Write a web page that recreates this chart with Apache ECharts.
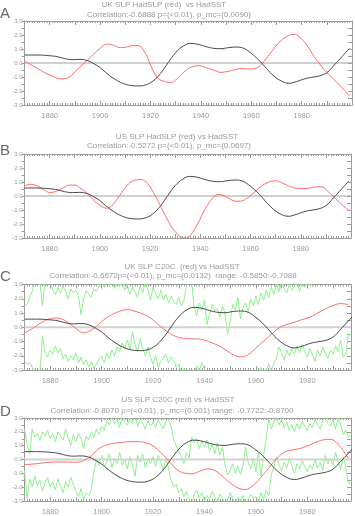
<!DOCTYPE html>
<html><head><meta charset="utf-8">
<script src="https://cdn.jsdelivr.net/npm/echarts@6/dist/echarts.min.js"></script>
<style>html,body{margin:0;padding:0;background:#fff}#c{width:355px;height:516px}</style>
</head><body><div id="c"></div>
<script>
// Black line: HadSST index (same in all panels)
const sstYears  = [1870,1875,1880,1883,1886,1889,1892,1895,1898,1900,1903,1906,1909,1912,1915,1918,1921,1924,1927,1930,1933,1936,1939,1942,1945,1948,1951,1954,1957,1960,1963,1966,1969,1972,1975,1978,1981,1984,1987,1990,1993,1996,1999];
const sstValues = [0.57,0.57,0.52,0.45,0.31,0.24,0.26,0.17,-0.1,-0.33,-0.79,-1.17,-1.45,-1.6,-1.64,-1.57,-1.29,-0.74,0.02,0.74,1.21,1.4,1.33,1.17,1.05,1.02,1.1,1.14,1.05,0.69,0.21,-0.38,-0.93,-1.29,-1.45,-1.33,-1.14,-1.02,-0.93,-0.69,-0.14,0.45,1.05];

// Red lines
const ukHadYears  = [1870,1875,1880,1885,1888,1890,1895,1900,1903,1905,1908,1910,1913,1915,1918,1920,1923,1926,1928,1930,1933,1936,1939,1942,1945,1948,1950,1953,1956,1960,1962,1965,1968,1971,1974,1977,1979,1982,1985,1988,1990,1993,1996,1999];
const ukHadValues = [0.14,-0.38,-0.86,-1.14,-0.98,-0.62,0.21,1.05,1.36,1.29,1.1,1.12,1.24,1.24,0.69,-0.14,-1.1,-1.33,-1.4,-1.21,-0.69,-0.31,-0.19,-0.33,-0.5,-0.67,-0.62,-0.5,-0.4,-0.43,-0.38,0.1,0.81,1.45,1.88,2.05,1.88,1.29,0.45,-0.26,-0.69,-1.21,-1.76,-2.36];

const usHadYears  = [1870,1872,1875,1878,1880,1882,1885,1888,1890,1892,1895,1898,1901,1903,1905,1908,1911,1913,1916,1918,1920,1923,1926,1929,1932,1934,1936,1939,1942,1945,1947,1949,1951,1954,1956,1958,1961,1964,1967,1970,1973,1976,1979,1982,1985,1988,1991,1994,1997,1999];
const usHadValues = [0.7,0.83,0.73,0.42,0.25,0.3,0.54,0.78,0.78,0.59,0.18,-0.37,-0.78,-0.87,-0.66,0.06,0.78,1.06,1.18,1.06,0.66,-0.3,-1.38,-2.33,-2.88,-3.0,-2.81,-1.97,-0.9,-0.13,0.11,0.06,-0.13,-0.37,-0.37,-0.23,0.18,0.66,0.97,1.09,0.9,0.66,0.54,0.54,0.63,0.66,0.3,-0.23,-0.71,-1.02];

const ukC20Years  = [1870,1873,1876,1879,1882,1885,1888,1891,1893,1895,1898,1901,1904,1907,1910,1913,1916,1919,1922,1925,1928,1931,1934,1937,1940,1943,1946,1949,1952,1954,1957,1960,1963,1966,1969,1972,1975,1978,1981,1984,1987,1990,1993,1996];
const ukC20Values = [-0.4,-0.1,0.26,0.54,0.65,0.54,0.19,-0.23,-0.4,-0.28,0.07,0.54,0.89,1.12,1.24,1.12,0.93,0.65,0.19,-0.23,-0.58,-0.75,-0.82,-0.82,-0.91,-1.1,-1.33,-1.68,-1.99,-2.08,-1.92,-1.45,-0.98,-0.51,-0.05,0.19,0.35,0.54,0.7,1.0,1.28,1.52,1.66,1.59];

const usC20Years  = [1870,1875,1880,1885,1890,1893,1896,1899,1902,1905,1908,1911,1914,1917,1920,1923,1926,1929,1932,1935,1938,1941,1944,1947,1950,1953,1956,1959,1962,1965,1968,1971,1974,1977,1980,1983,1986,1989,1992,1994,1996];
const usC20Values = [-0.37,-0.3,-0.2,-0.18,-0.2,-0.08,0.27,0.79,1.05,1.17,1.24,1.29,1.29,1.22,0.98,0.51,-0.08,-0.68,-0.98,-1.03,-0.86,-0.68,-0.79,-1.22,-1.69,-2.05,-2.17,-1.86,-1.27,-0.63,0.04,0.51,0.68,0.79,0.98,1.22,1.41,1.46,1.1,0.63,0.08];

// Green annual lines, one value per year starting at greenStartYear
const greenStartYear = 1870;
const ukUpper = [1.5,1.6,2.1,2.5,3.2,3.4,3.1,1.5,3.3,3.5,
  3.2,2.6,2.3,2.8,2.4,2.9,2.5,2.0,2.7,2.4,
  2.6,2.2,0.9,2.0,2.6,2.3,2.1,2.7,2.5,2.9,
  3.2,2.8,3.3,2.9,3.4,2.7,3.1,2.9,3.3,2.6,
  3.0,2.3,2.8,2.5,2.1,2.9,2.4,3.2,2.6,1.9,
  2.8,2.4,2.0,2.6,1.9,2.3,1.7,2.2,1.8,1.6,
  2.1,1.5,1.9,2.9,3.1,3.2,1.4,0.8,1.7,1.2,
  1.9,0.2,0.9,1.6,1.1,1.3,0.7,1.5,1.0,-0.5,
  0.4,1.6,1.2,2.1,0.6,1.4,1.7,1.1,2.0,1.5,
  2.2,1.6,2.4,1.9,2.6,2.1,2.8,2.3,3.1,2.5,
  3.2,2.7,2.4,3.0,2.6,2.9,3.3,2.5,3.1,2.8,
  3.4,2.9,3.2,3.5,3.1,3.6,3.3,3.5,3.2,3.6,
  3.4,3.7,3.3,3.5,3.6,3.4,3.5,3.5];
const ukLower = [-2.4,-2.6,-2.5,-2.8,-3.3,-3.5,-3.2,-0.6,-1.8,-2.1,
  -1.6,-1.9,-1.3,-1.8,-1.5,-2.2,-1.9,-2.4,-2.0,-2.3,
  -1.8,-2.5,-2.1,-2.6,-2.3,-2.8,-2.4,-2.9,-2.6,-2.2,
  -2.0,-2.5,-1.8,-2.2,-1.6,-2.0,-1.4,-1.7,-1.1,-1.5,
  -0.9,-1.6,-0.3,-1.2,-1.7,-0.8,-1.5,-2.0,-1.4,-2.1,
  -2.6,-2.0,-2.8,-2.4,-2.2,-1.9,-2.5,-2.1,-2.3,-2.8,
  -2.6,-3.2,-2.9,-3.4,-3.1,-3.5,-3.3,-2.7,-3.1,-2.5,
  -2.9,-3.3,-3.6,-3.8,-3.5,-3.9,-3.7,-4.0,-3.6,-3.8,
  -3.5,-3.9,-3.7,-4.1,-3.8,-3.6,-3.9,-3.4,-3.7,-3.3,
  -3.6,-3.2,-2.8,-3.3,-3.0,-2.6,-3.1,-2.5,-2.2,-1.4,
  -1.8,-2.3,-1.6,-2.0,-1.5,-1.9,-1.3,-1.8,-1.2,-1.7,
  -2.1,-1.5,-1.9,-2.4,-1.6,-2.0,-1.4,-1.8,-2.2,-1.6,
  -1.9,-1.3,-1.7,-0.9,-2.1,-1.9,-0.5,-0.5];
const usUpper = [2.2,1.1,0.4,2.2,1.6,1.9,1.4,2.0,1.7,2.1,
  1.5,1.9,1.3,2.0,1.7,1.4,2.2,1.6,1.0,1.8,
  1.3,1.9,1.5,0.8,1.7,1.4,2.0,1.6,2.2,1.8,
  2.4,2.1,2.8,2.5,3.1,2.6,2.9,2.3,3.2,2.7,
  2.5,3.0,2.6,3.3,2.4,2.9,2.6,2.2,2.8,2.4,
  2.7,2.3,2.9,2.5,2.2,2.8,2.9,2.4,1.5,1.0,
  0.6,0.2,-0.3,0.5,0.1,1.6,1.2,1.5,0.8,1.3,
  0.9,1.4,0.6,1.1,0.4,1.2,0.3,0.9,-0.4,-1.1,
  -0.8,-0.3,-1.0,-0.5,-1.1,-0.4,0.9,-0.2,-0.7,0.1,
  -0.9,0.5,-1.2,0.3,1.5,2.9,2.2,2.7,3.1,2.5,
  2.9,2.3,2.7,2.1,2.5,2.0,2.6,2.2,2.8,2.4,
  2.1,2.6,2.3,2.9,2.5,2.2,2.8,3.1,2.6,2.4,
  2.9,2.2,3.0,2.5,1.8,2.1,1.6,1.7];
const usLower = [-0.8,-2.8,-1.4,-2.0,-1.2,-1.9,-1.5,-2.3,-1.7,-1.3,
  -2.0,-1.6,-2.2,-1.4,-1.9,-2.4,-1.6,-2.0,-1.3,-1.8,
  -2.3,-2.7,-2.1,-2.9,-2.4,-2.6,-2.2,-0.9,0.0,-0.4,
  0.3,-0.5,-0.2,0.4,-0.6,0.1,-0.3,0.5,-0.4,0.0,
  -0.7,0.2,-0.4,-1.2,0.3,-0.2,0.4,-0.6,0.1,-0.3,
  0.2,-0.5,0.3,-0.2,-0.8,0.1,-0.6,-1.5,-2.0,-1.8,
  -2.4,-2.1,-2.7,-2.3,-2.9,-3.3,-2.5,-2.2,-2.8,-2.4,
  -3.0,-2.6,-2.9,-2.3,-2.7,-3.1,-2.5,-2.8,-3.2,-2.9,
  -2.4,-2.8,-3.3,-2.7,-3.0,-2.6,-3.2,-2.9,-2.5,-2.8,
  -2.7,-3.1,-2.4,-2.9,-2.2,-2.6,-1.1,-0.6,0.2,-0.4,
  -0.8,-0.2,-0.6,0.1,-0.5,-1.0,-0.3,-0.7,-0.1,-0.5,
  -0.9,-0.4,-0.7,0.0,-0.6,-0.2,-0.8,0.3,-0.3,0.1,
  -0.4,0.5,-0.2,-0.7,0.2,-0.6,-1.7,-1.7];

// Axis ranges and tick labels
const xMinYear = 1870;
const xMaxHad = 2000;
const xMaxC20 = 1997;
const xLabelYears = [1880,1900,1920,1940,1960,1980];
const yMin = -3, yMax = 3;

// Text
const panelLetters = ['A','B','C','D'];
const titles = [
  'UK SLP HadSLP (red)  vs HadSST',
  'US SLP HadSLP (red) vs HadSST',
  'UK SLP C20C  (red) vs HadSST',
  'US SLP C20C (red) vs HadSST'
];
const subtitles = [
  'Correlation:-0.6888 p=(<0.01), p_mc=(0.0090)',
  'Correlation:-0.5272 p=(<0.01), p_mc=(0.0697)',
  'Correlation:-0.6672p=(<0.01), p_mc=(0.0132)  range: -0.5850:-0.7088',
  'Correlation:-0.8070 p=(<0.01), p_mc=(0.001) range: -0.7722:-0.8700'
];

// ---------- build ----------
const pairs = (xs, ys) => xs.map((x, i) => [x, ys[i]]);
const annual = ys => ys.map((v, i) => [greenStartYear + i, v]);

const layout = [
  {top: 21,  height: 84,   left: 24.5, right: 3, xmax: xMaxHad, t1: 5,   t2: 14.5,  tx1: 164, tx2: 169, ly: 14},
  {top: 154, height: 84,   left: 24.5, right: 4, xmax: xMaxHad, t1: 137, t2: 146,   tx1: 177, tx2: 169, ly: 151},
  {top: 284.5, height: 85.5, left: 24.5, right: 4, xmax: xMaxC20, t1: 266.5, t2: 275.5, tx1: 182, tx2: 173, ly: 277},
  {top: 418, height: 84.5, left: 24.5, right: 4, xmax: xMaxC20, t1: 400, t2: 410.5, tx1: 178, tx2: 172, ly: 412}
];
const redSets = [pairs(ukHadYears, ukHadValues), pairs(usHadYears, usHadValues), pairs(ukC20Years, ukC20Values), pairs(usC20Years, usC20Values)];
const greenSets = [[], [], [annual(ukUpper), annual(ukLower)], [annual(usUpper), annual(usLower)]];

const FONT = 'Liberation Sans';
const TXT = '#9a9a9a';
const AX = '#9c9c9c';

const grid = [], xAxis = [], yAxis = [], series = [], graphic = [];
layout.forEach((L, p) => {
  grid.push({top: L.top, height: L.height, left: L.left, right: L.right, containLabel: false});
  const xb = {
    type: 'value', gridIndex: p, min: xMinYear, max: L.xmax, interval: 10,
    axisLine: {show: true, onZero: false, lineStyle: {color: AX, width: 1}},
    axisTick: {show: true, inside: true, length: 4, lineStyle: {color: AX}},
    minorTick: {show: true, splitNumber: 10, length: 2, lineStyle: {color: AX}},
    splitLine: {show: false},
    axisLabel: {show: true, margin: 7, fontSize: 7.5, color: TXT, fontFamily: FONT,
      formatter: v => xLabelYears.indexOf(v) >= 0 ? String(v) : ''}
  };
  xAxis.push(xb);
  xAxis.push(Object.assign({}, xb, {position: 'top', axisLabel: {show: false}}));
  const yl = {
    type: 'value', gridIndex: p, min: yMin, max: yMax, interval: 0.5,
    axisLine: {show: true, onZero: false, lineStyle: {color: AX, width: 1}},
    axisTick: {show: true, inside: false, length: 3, lineStyle: {color: AX}},
    splitLine: {show: false},
    axisLabel: {show: true, margin: 2, fontSize: 6, color: TXT, fontFamily: FONT,
      formatter: v => Math.abs(v - Math.round(v)) < 1e-6 ? Number(v).toFixed(1) : ''}
  };
  yAxis.push(yl);
  yAxis.push(Object.assign({}, yl, {position: 'right', axisTick: {show: true, inside: true, length: 4, lineStyle: {color: AX}}, axisLabel: {show: false}}));

  greenSets[p].forEach(g => series.push({
    type: 'line', xAxisIndex: 2 * p, yAxisIndex: 2 * p, data: g, symbol: 'none', clip: true,
    lineStyle: {color: '#8ff08f', width: 1}, z: 1, silent: true
  }));
  series.push({
    type: 'line', xAxisIndex: 2 * p, yAxisIndex: 2 * p, data: [[xMinYear, 0], [L.xmax, 0]], symbol: 'none',
    lineStyle: {color: p >= 2 ? '#d2d2d2' : '#a0a0a0', width: p >= 2 ? 2 : 1}, z: 2, silent: true
  });
  series.push({
    type: 'line', xAxisIndex: 2 * p, yAxisIndex: 2 * p, data: redSets[p], symbol: 'none', smooth: 0.4, clip: true,
    lineStyle: {color: '#ff6a6a', width: 1}, z: 3, silent: true
  });
  series.push({
    type: 'line', xAxisIndex: 2 * p, yAxisIndex: 2 * p, data: pairs(sstYears, sstValues), symbol: 'none', smooth: 0.4, clip: true,
    lineStyle: {color: '#474747', width: 1}, z: 4, silent: true
  });

  graphic.push({type: 'text', x: 0, y: L.ly, style: {text: panelLetters[p], fontSize: 15, fontFamily: FONT, fill: '#6a6a6a', textVerticalAlign: 'middle', textAlign: 'left'}});
  graphic.push({type: 'text', x: L.tx1, y: L.t1, style: {text: titles[p], fontSize: 8, fontFamily: FONT, fill: TXT, textAlign: 'center', textVerticalAlign: 'middle'}});
  graphic.push({type: 'text', x: L.tx2, y: L.t2, style: {text: subtitles[p], fontSize: 8, fontFamily: FONT, fill: TXT, textAlign: 'center', textVerticalAlign: 'middle'}});
});

const chart = echarts.init(document.getElementById('c'), null, {renderer: 'canvas'});
chart.setOption({animation: false, backgroundColor: '#fff', grid, xAxis, yAxis, series, graphic});
</script></body></html>
